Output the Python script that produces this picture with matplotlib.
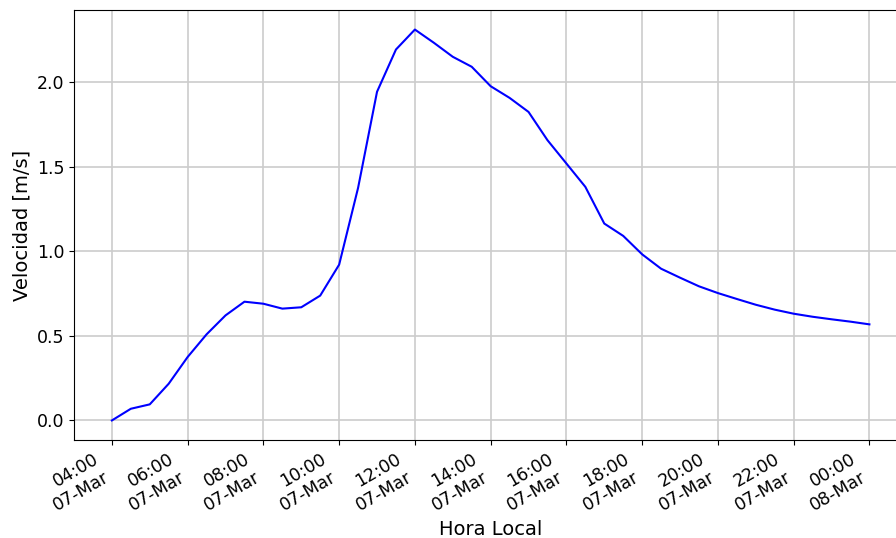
import numpy as np
import pandas as pd
import matplotlib
matplotlib.use("Agg")
import matplotlib.pyplot as plt
import matplotlib.dates as mdates

# Velocidad cada 30 minutos, 04:00 07-Mar -> 00:00 08-Mar
inicio = "2024-03-07 04:00"
fin = "2024-03-08 00:00"
velocidad = [0.000, 0.069, 0.095, 0.217, 0.375, 0.509, 0.621, 0.702, 0.690, 0.661,
             0.669, 0.738, 0.921, 1.375, 1.943, 2.193, 2.311, 2.233, 2.150, 2.091,
             1.976, 1.907, 1.824, 1.657, 1.519, 1.381, 1.164, 1.091, 0.982, 0.897,
             0.844, 0.793, 0.753, 0.718, 0.684, 0.655, 0.631, 0.613, 0.598, 0.584,
             0.568]

hora = pd.date_range(inicio, fin, freq="30min")

fig = plt.figure(figsize=(8.96, 5.38), dpi=100)
# el eje se sale un poco por la derecha, como en el original
ax = fig.add_axes([0.0826, 0.1822, 0.93, 0.7992])

ax.plot(hora, velocidad, color="blue", lw=1.5)

ax.xaxis.set_major_locator(mdates.HourLocator(byhour=range(0, 24, 2)))
ax.xaxis.set_major_formatter(mdates.DateFormatter("%H:%M\n%d-%b"))
plt.setp(ax.get_xticklabels(), rotation=30, ha="right")

ax.tick_params(labelsize=12.5)
ax.set_xlabel("Hora Local", fontsize=14)
ax.set_ylabel("Velocidad [m/s]", fontsize=14)
ax.grid(True, color="#cccccc", lw=1.2)

fig.savefig("out.png", dpi=100)
